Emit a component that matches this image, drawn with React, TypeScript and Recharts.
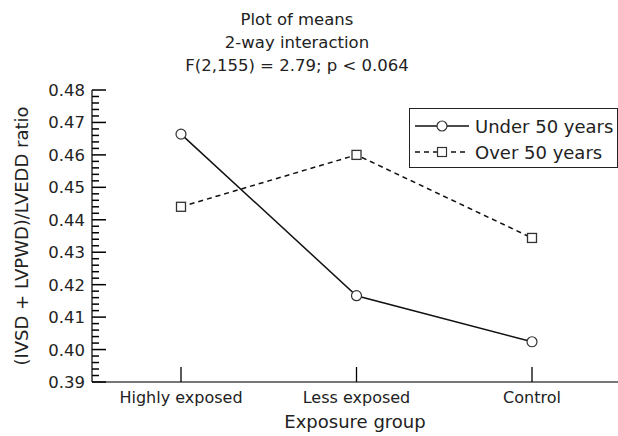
import React from 'react';
import { LineChart, Line, XAxis, YAxis, Legend } from 'recharts';

const groups = ['Highly exposed', 'Less exposed', 'Control'];
const under50 = [0.4664, 0.4166, 0.4024];
const over50 = [0.444, 0.46, 0.4344];
const majorTicks = [0.39, 0.4, 0.41, 0.42, 0.43, 0.44, 0.45, 0.46, 0.47, 0.48];

// minor ticks every 0.002 between the labelled ones
const yTicks: number[] = [];
for (let i = 0; i <= 45; i++) yTicks.push(Number((0.39 + i * 0.002).toFixed(3)));

const data = groups.map((g, i) => ({ group: g, under: under50[i], over: over50[i] }));

const FONT = '"DejaVu Sans", sans-serif';
const INK = '#222';

const YTick = (props: any) => {
  const { x, y, payload } = props;
  const v = Number(payload.value);
  const isMajor = majorTicks.some((t) => Math.abs(t - v) < 1e-6);
  return (
    <g>
      <line x1={x} y1={y} x2={x + (isMajor ? 14 : 7)} y2={y} stroke="#000" strokeWidth={1.5} />
      {isMajor && (
        <text x={x - 7} y={y + 6} textAnchor="end" fontSize={16.5} fill={INK} fontFamily={FONT}>
          {v.toFixed(2)}
        </text>
      )}
    </g>
  );
};

const XTick = (props: any) => {
  const { x, y, payload } = props;
  return (
    <g>
      <line x1={x} y1={y - 15} x2={x} y2={y} stroke="#000" strokeWidth={1.3} />
      <text x={x} y={y + 21} textAnchor="middle" fontSize={16} fill={INK} fontFamily={FONT}>
        {payload.value}
      </text>
    </g>
  );
};

const SquareDot = (props: any) => {
  const { cx, cy } = props;
  if (cx == null || cy == null) return null;
  return <rect x={cx - 4.5} y={cy - 4.5} width={9} height={9} fill="#fff" stroke="#333" strokeWidth={1.3} />;
};

const LegendBox = () => {
  const row = { display: 'flex', alignItems: 'center', height: 26 } as React.CSSProperties;
  return (
    <div
      style={{
        border: '1.5px solid #222',
        background: '#fff',
        height: 60,
        boxSizing: 'border-box',
        paddingTop: 4,
        paddingLeft: 5,
        fontFamily: FONT,
        fontSize: 18,
        color: INK,
        whiteSpace: 'nowrap',
      }}
    >
      <div style={row}>
        <svg width={54} height={14} style={{ marginRight: 6 }}>
          <line x1={0} y1={7} x2={54} y2={7} stroke="#111" strokeWidth={1.5} />
          <circle cx={27} cy={7} r={5} fill="#fff" stroke="#333" strokeWidth={1.2} />
        </svg>
        <span>Under 50 years</span>
      </div>
      <div style={row}>
        <svg width={54} height={14} style={{ marginRight: 6 }}>
          <line x1={0} y1={7} x2={54} y2={7} stroke="#111" strokeWidth={1.5} strokeDasharray="5 4" />
          <rect x={22.5} y={2.5} width={9} height={9} fill="#fff" stroke="#333" strokeWidth={1.2} />
        </svg>
        <span>Over 50 years</span>
      </div>
    </div>
  );
};

export default function App() {
  return (
    <div style={{ position: 'absolute', left: 0, top: 0, width: 618, height: 436, background: '#fff', fontFamily: FONT }}>
      <div
        style={{
          position: 'absolute',
          left: 0,
          top: 8,
          width: 594,
          textAlign: 'center',
          fontSize: 16.5,
          lineHeight: '23px',
          color: INK,
        }}
      >
        <div>Plot of means</div>
        <div>2-way interaction</div>
        <div>F(2,155) = 2.79; p &lt; 0.064</div>
      </div>
      <LineChart width={618} height={436} data={data} margin={{ top: 90, right: 0, bottom: 0, left: 0 }}>
        <XAxis
          dataKey="group"
          height={54}
          padding={{ left: 89, right: 86 }}
          tickSize={0}
          tickMargin={0}
          tickLine={false}
          tick={<XTick />}
          interval={0}
          stroke="#777"
          strokeWidth={2}
          label={{ value: 'Exposure group', position: 'insideBottom', offset: 8, fontSize: 18, fill: INK, fontFamily: FONT }}
        />
        <YAxis
          width={92}
          domain={[0.39, 0.48]}
          ticks={yTicks}
          interval={0}
          tickSize={0}
          tickMargin={0}
          tickLine={false}
          tick={<YTick />}
          stroke="#333"
          strokeWidth={1.5}
          allowDataOverflow
          label={{
            value: '(IVSD + LVPWD)/LVEDD ratio',
            angle: -90,
            position: 'insideLeft',
            offset: 22,
            fontSize: 18,
            fill: INK,
            fontFamily: FONT,
            style: { textAnchor: 'middle' },
          }}
        />
        <Legend
          layout="horizontal"
          verticalAlign="middle"
          align="center"
          content={<LegendBox />}
          wrapperStyle={{ top: 108, left: 409, width: 209 }}
        />
        <Line
          dataKey="under"
          stroke="#111"
          strokeWidth={1.5}
          isAnimationActive={false}
          dot={{ r: 5, fill: '#fff', stroke: '#333', strokeWidth: 1.2 }}
          activeDot={false}
        />
        <Line
          dataKey="over"
          stroke="#111"
          strokeWidth={1.5}
          strokeDasharray="5 4"
          isAnimationActive={false}
          dot={<SquareDot />}
          activeDot={false}
        />
      </LineChart>
    </div>
  );
}
